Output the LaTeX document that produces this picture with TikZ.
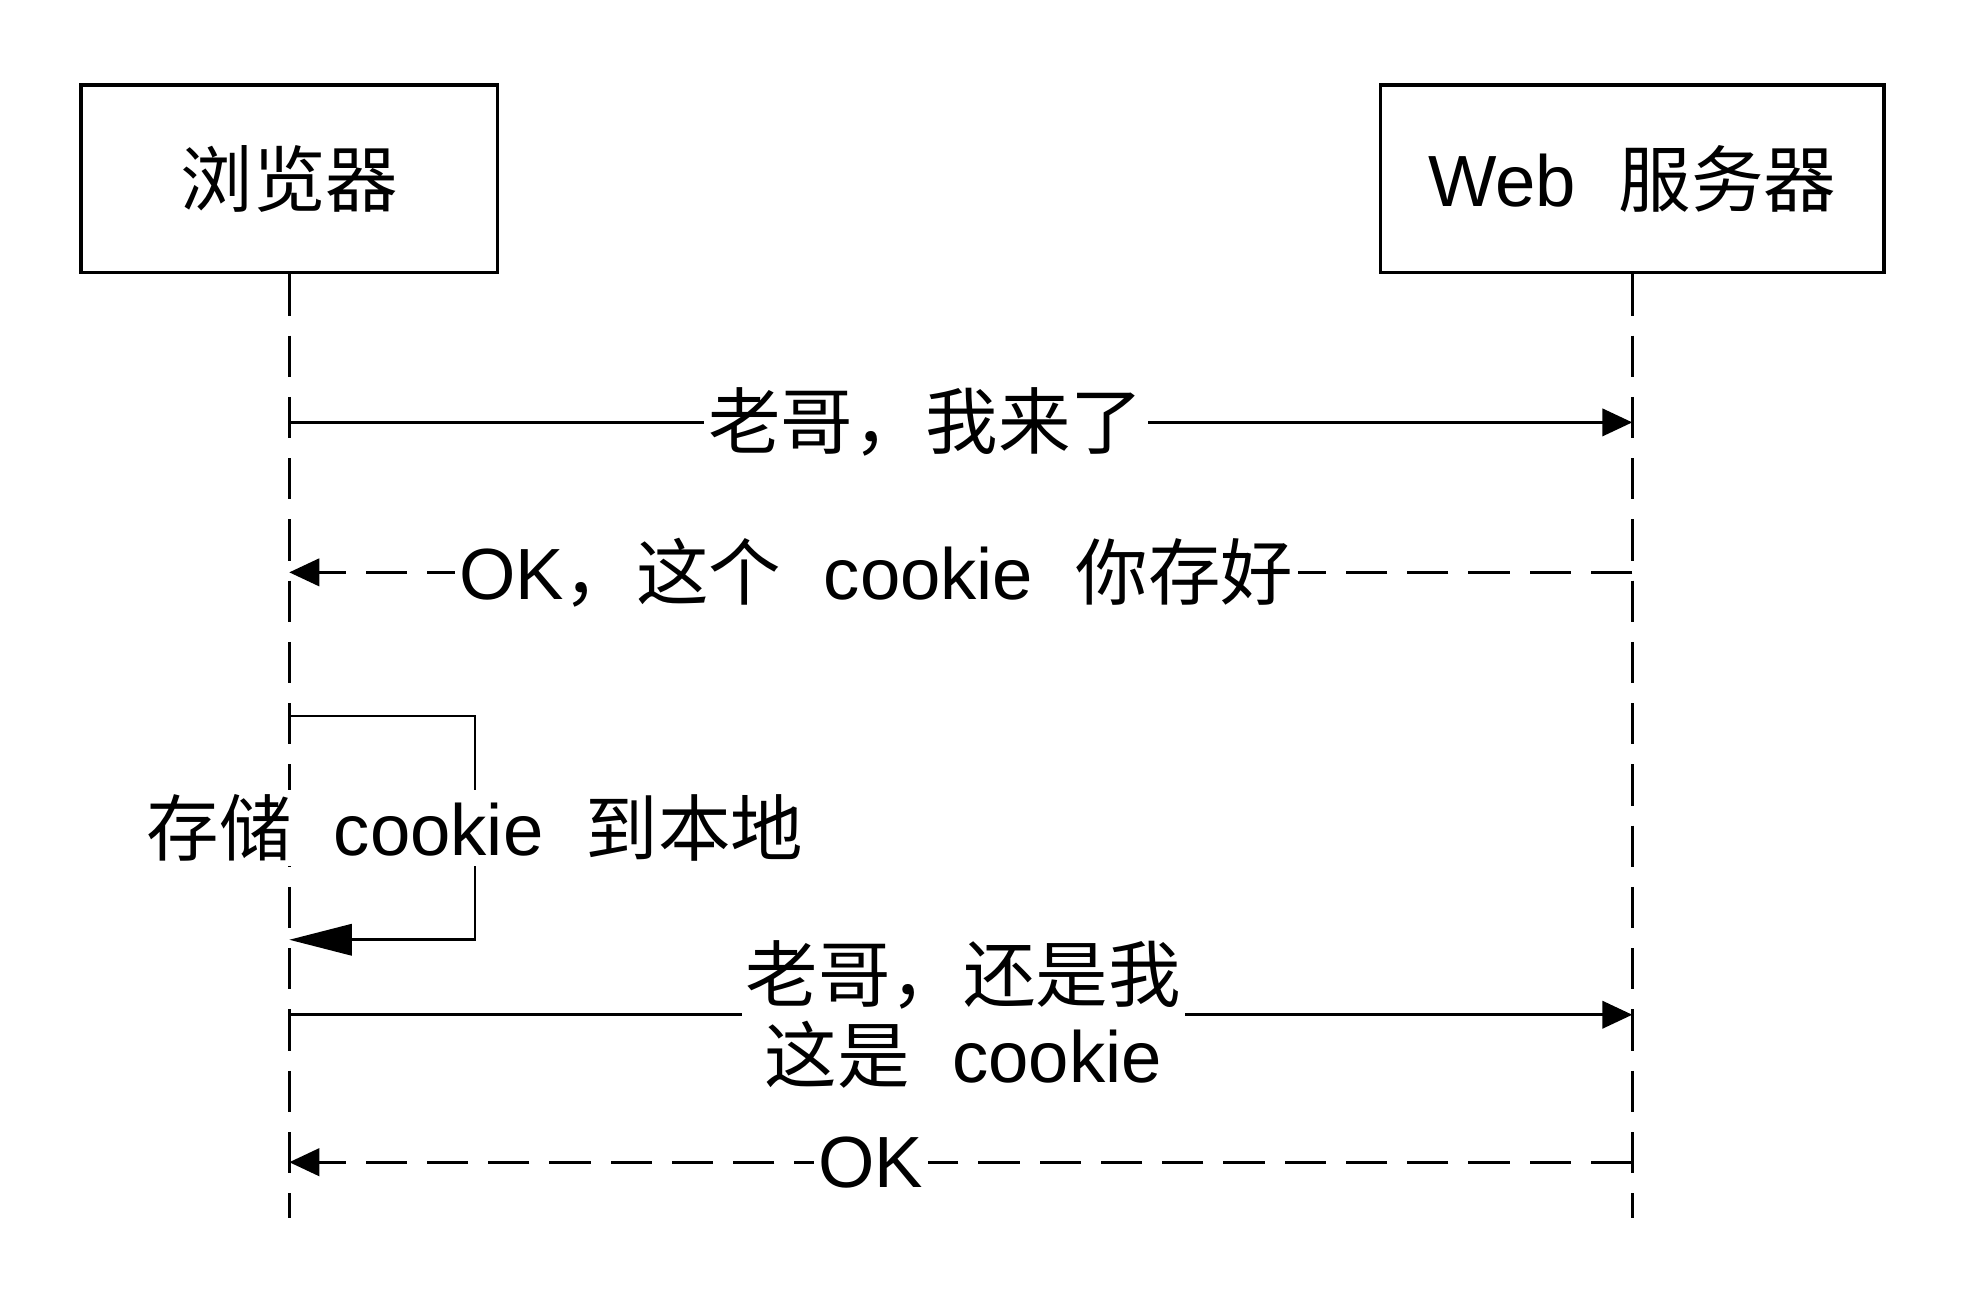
\documentclass[tikz,border=0pt]{standalone}
\usepackage{fontspec}
\setmainfont{Liberation Sans}[WordSpace=2.1]
\newfontfamily\cjk{Noto Sans CJK SC}
\newcommand{\zh}[1]{{\cjk #1}}
\usetikzlibrary{arrows.meta,positioning}

\begin{document}
\begin{tikzpicture}[x=0.01cm,y=-0.01cm,node distance=10.74cm,on grid,
    line width=0.6pt,font=\fontsize{16.5}{18.5}\selectfont,
    actor/.style={draw,line width=0.8pt,minimum height=1.5cm,inner sep=0pt},
    lifeline/.style={dash pattern=on 0.33cm off 0.16cm},
    call/.style={-{Triangle[length=0.24cm,width=0.22cm]}},
    reply/.style={call,dash pattern=on 0.33cm off 0.16cm},
    selfcall/.style={-{Triangle[length=0.5cm,width=0.25cm]}},
    msg/.style={fill=white,inner sep=1pt}]
   \useasboundingbox (0,0) rectangle (1570,1040);
   \node[actor,minimum width=3.33cm] (browser) at (231.5,143) {\zh{浏览器}};
   \node[actor,minimum width=4.03cm] (server) [right=of browser] {Web \zh{服务器}};
   % message rows
   \foreach \n/\y in {1/338,2/458,3/812,4/930,5/573,6/752,9/975} {
     \coordinate (b\n) at (browser.south |- 0,\y);
     \coordinate (s\n) at (server.south |- 0,\y);
   }
   \coordinate (loopTop) at (380,573);
   \coordinate (loopBot) at (380,752);
   \draw[lifeline] (browser.south) -- (b9);
   \draw[lifeline] (server.south) -- (s9);
   \draw[call] (b1) -- node[msg,pos=0.474] {\zh{老哥，我来了}} (s1);
   \draw[reply] (s2) -- node[msg,pos=0.563] {OK\zh{，这个} cookie \zh{你存好}} (b2);
   \draw[selfcall] (b5) -- (loopTop) -- node[msg] {\zh{存储} cookie \zh{到本地}} (loopBot) -- (b6);
   \draw[call] (b3) -- node[msg,pos=0.502,align=center] {\zh{老哥，还是我}\\\zh{这是} cookie} (s3);
   \draw[reply] (s4) -- node[msg,pos=0.567] {OK} (b4);
\end{tikzpicture}
\end{document}
